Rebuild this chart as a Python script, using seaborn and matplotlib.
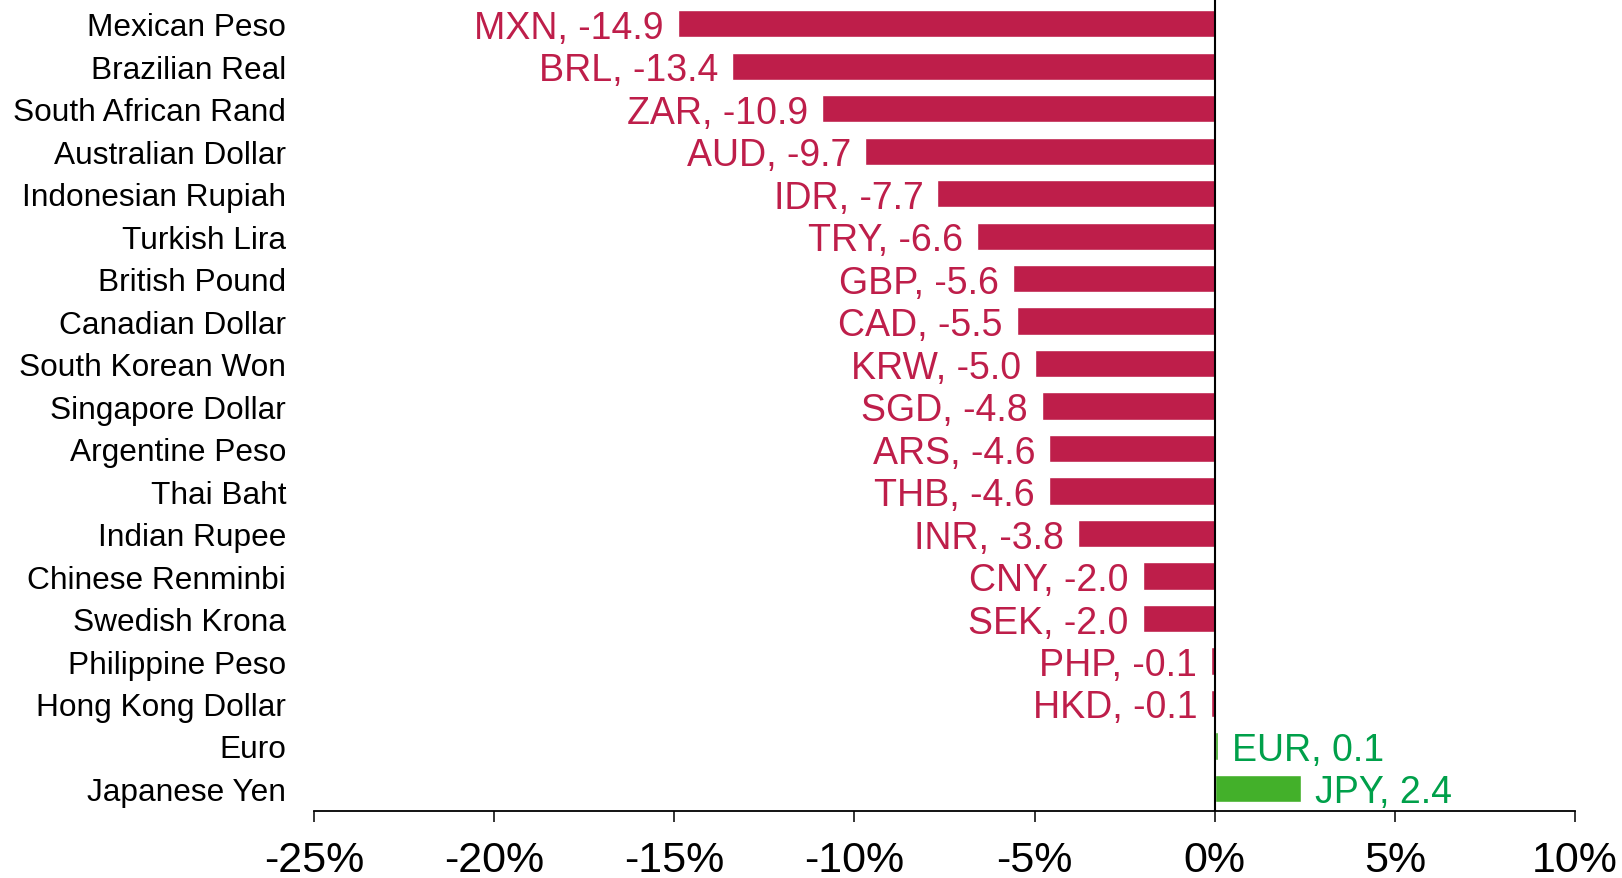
import pandas as pd
import seaborn as sns
import matplotlib.pyplot as plt

# currency moves, %
currencies = ['Mexican Peso', 'Brazilian Real', 'South African Rand', 'Australian Dollar',
              'Indonesian Rupiah', 'Turkish Lira', 'British Pound', 'Canadian Dollar',
              'South Korean Won', 'Singapore Dollar', 'Argentine Peso', 'Thai Baht',
              'Indian Rupee', 'Chinese Renminbi', 'Swedish Krona', 'Philippine Peso',
              'Hong Kong Dollar', 'Euro', 'Japanese Yen']
codes = ['MXN', 'BRL', 'ZAR', 'AUD', 'IDR', 'TRY', 'GBP', 'CAD', 'KRW', 'SGD',
         'ARS', 'THB', 'INR', 'CNY', 'SEK', 'PHP', 'HKD', 'EUR', 'JPY']
changes = [-14.9, -13.4, -10.9, -9.7, -7.7, -6.6, -5.6, -5.5, -5.0, -4.8,
           -4.6, -4.6, -3.8, -2.0, -2.0, -0.1, -0.1, 0.1, 2.4]
x_ticks = [-25, -20, -15, -10, -5, 0, 5, 10]

RED = '#BE1E4A'
GREEN_BAR = '#43B02A'
GREEN_TXT = '#00A04A'

df = pd.DataFrame({'currency': currencies, 'code': codes, 'change': changes})
df['sign'] = ['up' if v > 0 else 'down' for v in df['change']]

sns.set_style('white')
plt.rcParams['font.family'] = ['Liberation Sans', 'DejaVu Sans']

fig = plt.figure(figsize=(16.22, 8.79), dpi=100)
ax = fig.add_axes([314 / 1622, 67 / 879, 1261 / 1622, 812 / 879])

sns.barplot(data=df, x='change', y='currency', hue='sign', orient='h',
            palette={'down': RED, 'up': GREEN_BAR}, width=0.64,
            dodge=False, legend=False, ax=ax, saturation=1)

# data labels
for i, row in df.iterrows():
    up = row['change'] > 0
    ax.annotate(f"{row['code']}, {row['change']:.1f}", xy=(row['change'], i),
                xytext=(10 if up else -10, 0), textcoords='offset points',
                ha='left' if up else 'right', va='center_baseline', fontsize=27,
                color=GREEN_TXT if up else RED)

ax.axvline(0, color='black', lw=1.5, zorder=3)
ax.set_xlim(-25, 10)
ax.set_ylim(18.53, -0.58)
ax.set_xticks(x_ticks)
ax.set_xticklabels([f'{t}%' for t in x_ticks], fontsize=31)
ax.tick_params(axis='x', direction='out', length=8, width=1.3, pad=13, bottom=True,
               labelcolor='black')
ax.tick_params(axis='y', length=0, pad=20, labelsize=22.8, labelcolor='black')
ax.set_xlabel('')
ax.set_ylabel('')
for s in ['top', 'right', 'left']:
    ax.spines[s].set_visible(False)
ax.spines['bottom'].set_color('black')
ax.spines['bottom'].set_linewidth(1.3)

fig.savefig('out.png', dpi=100)
